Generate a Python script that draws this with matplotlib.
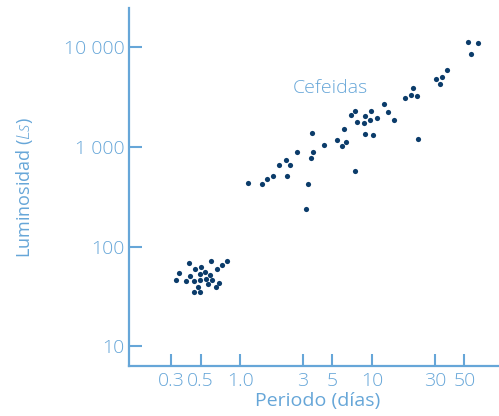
import numpy as np
import matplotlib
matplotlib.use('Agg')
import matplotlib.pyplot as plt
from matplotlib.ticker import FixedLocator, NullLocator

# Period (days) and luminosity (solar units)
periodo_rr = [0.326, 0.342, 0.411, 0.388, 0.416, 0.457, 0.447, 0.443,
              0.479, 0.498, 0.496, 0.507, 0.496, 0.541, 0.547, 0.567,
              0.593, 0.611, 0.598, 0.663, 0.659, 0.688, 0.728, 0.794]
lum_rr = [46.0, 53.8, 69.1, 45.0, 50.6, 59.8, 45.0, 35.3,
          38.9, 34.9, 53.6, 62.3, 46.0, 55.5, 47.4, 42.3,
          52.1, 46.4, 72.3, 59.0, 39.2, 43.2, 65.2, 71.1]

periodo_cef = [1.15, 1.46, 1.61, 1.76, 1.98, 2.21, 2.40, 2.26, 2.70, 3.58,
               3.47, 3.52, 3.28, 3.17, 4.32, 5.42, 5.88, 6.37, 6.15, 6.92,
               7.46, 7.64, 8.79, 9.81, 8.73, 9.59, 10.8, 8.84, 10.1, 7.38,
               12.2, 13.3, 14.7, 17.8, 19.6, 21.8, 20.4, 22.2, 30.7, 33.7,
               32.6, 37.0, 53.6, 63.9, 56.4]
lum_cef = [438, 428, 474, 515, 660, 745, 656, 508, 885, 897,
           774, 1392, 425, 241, 1054, 1175, 1031, 1130, 1507, 2083,
           2318, 1771, 2064, 2318, 1742, 1867, 1970, 1342, 1329, 578,
           2685, 2233, 1853, 3131, 3308, 3278, 3917, 1190, 4786, 5052,
           4266, 5902, 11280, 11020, 8610]

xticks = [0.3, 0.5, 1.0, 3, 5, 10, 30, 50]
xtick_labels = ['0.3', '0.5', '1.0', '3', '5', '10', '30', '50']
yticks = [10, 100, 1000, 10000]
ytick_labels = ['10', '100', '1 000', '10 000']

azul = '#66a6d8'
punto = '#0b3c6a'

plt.rcParams['font.family'] = ['Open Sans', 'DejaVu Sans']
plt.rcParams['font.weight'] = 'light'
plt.rcParams['mathtext.fontset'] = 'custom'
plt.rcParams['mathtext.it'] = 'Open Sans:italic:light'
plt.rcParams['mathtext.rm'] = 'Open Sans:light'

fig = plt.figure(figsize=(4.99, 4.16), dpi=100)
ax = fig.add_axes([0.2585, 0.12, 0.7415, 0.861])

ax.scatter(periodo_rr + periodo_cef, lum_rr + lum_cef, s=14, color=punto,
           linewidths=0, zorder=3)

ax.set_xscale('log')
ax.set_yscale('log')
ax.set_xlim(0.1435, 91.6)
ax.set_ylim(6.3, 24950)

ax.xaxis.set_major_locator(FixedLocator(xticks))
ax.xaxis.set_minor_locator(NullLocator())
ax.set_xticklabels(xtick_labels)
ax.yaxis.set_major_locator(FixedLocator(yticks))
ax.yaxis.set_minor_locator(NullLocator())
ax.set_yticklabels(ytick_labels)

for s in ['top', 'right']:
    ax.spines[s].set_visible(False)
for s in ['left', 'bottom']:
    ax.spines[s].set_color(azul)
    ax.spines[s].set_linewidth(1.6)

ax.tick_params(axis='both', direction='in', length=9, width=1.5,
               color=azul, labelcolor=azul, labelsize=14)
ax.tick_params(axis='y', pad=3)
ax.tick_params(axis='x', pad=4)

ax.set_xlabel('Periodo (días)', color=azul, fontsize=14)
ax.xaxis.set_label_coords(0.51, -0.072)
ax.set_ylabel('Luminosidad ($Ls$)', color=azul, fontsize=13)
ax.yaxis.set_label_coords(-0.255, 0.497)

ax.text(4.8, 3917, 'Cefeidas', color=azul, fontsize=14, ha='center',
        va='center')

fig.savefig('out.png', dpi=100)
